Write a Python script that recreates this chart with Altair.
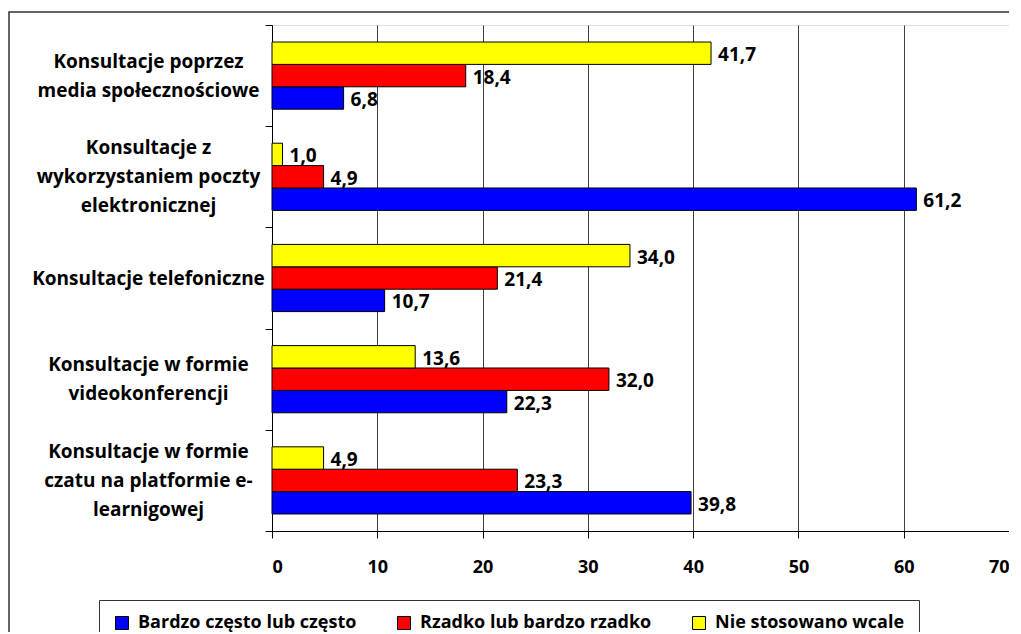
import altair as alt
import pandas as pd

categories = [
    "Konsultacje poprzez\nmedia społecznościowe",
    "Konsultacje z\nwykorzystaniem poczty\nelektronicznej",
    "Konsultacje telefoniczne",
    "Konsultacje w formie\nvideokonferencji",
    "Konsultacje w formie\nczatu na platformie e-\nlearnigowej",
]
series = ["Bardzo często lub często", "Rzadko lub bardzo rzadko", "Nie stosowano wcale"]
colors = ["#0000FF", "#FF0000", "#FFFF00"]
often = [6.8, 61.2, 10.7, 22.3, 39.8]
rarely = [18.4, 4.9, 21.4, 32.0, 23.3]
never = [41.7, 1.0, 34.0, 13.6, 4.9]
x_ticks = [0, 10, 20, 30, 40, 50, 60, 70]

rows = []
for s, vals in zip(series, [often, rarely, never]):
    for c, v in zip(categories, vals):
        rows.append({"category": c, "series": s, "value": v})
df = pd.DataFrame(rows)

FONT = "Open Sans"
LH = 29

base = alt.Chart(df).transform_calculate(
    label="replace(format(datum.value, '.1f'), '.', ',')"
).encode(
    y=alt.Y(
        "category:N",
        sort=categories,
        scale=alt.Scale(paddingInner=0, paddingOuter=0),
        axis=alt.Axis(
            title=None,
            labelExpr="split(datum.label, '\\n')",
            labelAlign="center",
            labelBaseline="middle",
            labelOffset={
                "condition": [
                    {"test": "length(split(datum.value, '\\n')) == 3", "value": -LH},
                    {"test": "length(split(datum.value, '\\n')) == 2", "value": -LH / 2},
                ],
                "value": 0,
            },
            labelPadding=117,
            labelLimit=0,
            labelLineHeight=LH,
            tickBand="extent",
            tickSize=7,
            tickColor="black",
            domainColor="black",
            labelFont=FONT,
            labelFontSize=19,
            labelFontWeight="bold",
            labelColor="black",
            grid=False,
        ),
    ),
    yOffset=alt.YOffset(
        "series:N",
        sort=series[::-1],
        scale=alt.Scale(paddingInner=0, paddingOuter=0.76),
    ),
    x=alt.X(
        "value:Q",
        scale=alt.Scale(domain=[0, 70], nice=False),
        axis=alt.Axis(
            title=None,
            values=x_ticks,
            grid=True,
            gridColor="#404040",
            gridWidth=1,
            tickSize=7,
            tickColor="black",
            domainColor="black",
            labelPadding=20,
            labelFont=FONT,
            labelFontSize=18,
            labelFontWeight="bold",
            labelColor="black",
        ),
    ),
)

bars = base.mark_bar(stroke="black", strokeWidth=1).encode(
    color=alt.Color(
        "series:N",
        scale=alt.Scale(domain=series, range=colors),
        legend=alt.Legend(
            title=None,
            orient="none",
            legendX=-173,
            legendY=575,
            direction="horizontal",
            symbolType="square",
            symbolSize=169,
            symbolStrokeColor="black",
            symbolStrokeWidth=1,
            labelFont=FONT,
            labelFontSize=18,
            labelFontWeight="bold",
            labelColor="black",
            labelOffset=7,
            labelLimit=0,
            columnPadding=38,
            padding=14,
            strokeColor="#333333",
            fillColor="white",
        ),
    )
)

labels = base.mark_text(
    align="left", baseline="middle", dx=7, dy=2,
    font=FONT, fontSize=19, fontWeight="bold", color="black",
).encode(text="label:N")

frame = alt.Chart(pd.DataFrame({"f": [0]})).mark_rect(
    fillOpacity=0, stroke="#333333", strokeWidth=1.5
).encode(
    x=alt.value(-263), x2=alt.value(2000), y=alt.value(-13), y2=alt.value(2000)
)

chart = alt.layer(frame, bars, labels).properties(
    width=737,
    height=506,
    autosize=alt.AutoSizeParams(type="none"),
    padding={"left": 264, "top": 17, "right": 0, "bottom": 101},
).configure_view(
    stroke="#a0a0a0", strokeWidth=1
).configure(background="white")

chart.save("out.html", embed_options={"renderer": "svg", "actions": False})
